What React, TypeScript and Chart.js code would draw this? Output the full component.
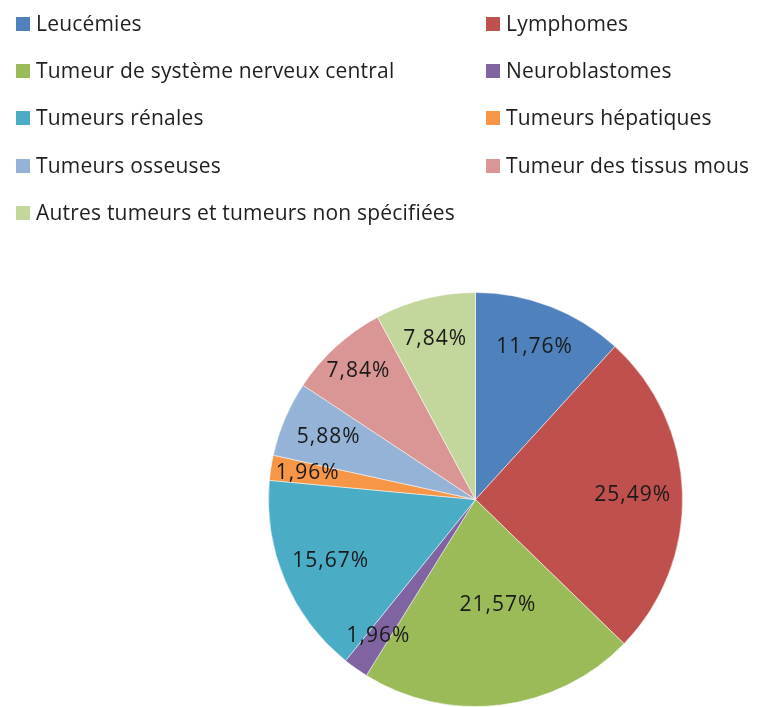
import React, { useEffect, useRef } from "react";
import { Chart, registerables } from "chart.js";

Chart.register(...registerables);

const categories = [
  "Leucémies",
  "Lymphomes",
  "Tumeur de système nerveux central",
  "Neuroblastomes",
  "Tumeurs rénales",
  "Tumeurs hépatiques",
  "Tumeurs osseuses",
  "Tumeur des tissus mous",
  "Autres tumeurs et tumeurs non spécifiées",
];

const percentages = [11.76, 25.49, 21.57, 1.96, 15.67, 1.96, 5.88, 7.84, 7.84];

const sliceColors = [
  "#4F81BD",
  "#C0504D",
  "#9BBB59",
  "#8064A2",
  "#4BACC6",
  "#F79646",
  "#95B3D7",
  "#D99694",
  "#C3D69B",
];

// value label placement: fraction of the outer radius, and turn (degrees) from the slice middle
const labelRadius = [0.79, 0.76, 0.52, 0.81, 0.76, 0.82, 0.77, 0.84, 0.8];
const labelTurn = [0, 0, -5, 0, 0, 0, 0, 0, 0];

const FONT = "Open Sans, DejaVu Sans, sans-serif";

const formatPct = (v: number) => v.toFixed(2).replace(".", ",") + "%";

const legendPlugin = {
  id: "twoColumnLegend",
  afterDraw(chart: any) {
    const ctx = chart.ctx as any;
    const colX = [16, 486];
    const rowY = [24, 71, 118, 166, 213];
    ctx.save();
    ctx.font = `21px ${FONT}`;
    ctx.letterSpacing = "0.2px";
    ctx.textBaseline = "middle";
    ctx.textAlign = "left";
    chart.data.labels.forEach((label: string, i: number) => {
      const x = colX[i % 2];
      const y = rowY[Math.floor(i / 2)];
      ctx.fillStyle = sliceColors[i];
      ctx.fillRect(x, y - 7, 14, 14);
      ctx.fillStyle = "#1e1e1e";
      ctx.fillText(label, x + 20, y + 1);
    });
    ctx.restore();
  },
};

const valueLabelPlugin = {
  id: "valueLabels",
  afterDatasetsDraw(chart: any) {
    const ctx = chart.ctx as any;
    const meta = chart.getDatasetMeta(0);
    ctx.save();
    ctx.font = `21px ${FONT}`;
    ctx.letterSpacing = "1px";
    ctx.textAlign = "center";
    ctx.textBaseline = "middle";
    ctx.fillStyle = "#1a1a1a";
    meta.data.forEach((arc: any, i: number) => {
      const { x, y, startAngle, endAngle, outerRadius } = arc.getProps(
        ["x", "y", "startAngle", "endAngle", "outerRadius"],
        true
      );
      const mid = (startAngle + endAngle) / 2 + (labelTurn[i] * Math.PI) / 180;
      const r = outerRadius * labelRadius[i];
      ctx.fillText(
        formatPct(chart.data.datasets[0].data[i]),
        x + Math.cos(mid) * r,
        y + Math.sin(mid) * r
      );
    });
    ctx.restore();
  },
};

export default function App() {
  const canvasRef = useRef<HTMLCanvasElement>(null);

  useEffect(() => {
    document.body.style.margin = "0";
    document.body.style.background = "#ffffff";
    const chart = new Chart(canvasRef.current!, {
      type: "pie",
      data: {
        labels: categories,
        datasets: [
          {
            data: percentages,
            backgroundColor: sliceColors,
            borderColor: "rgba(255,255,255,0.5)",
            borderWidth: 1,
          },
        ],
      },
      options: {
        responsive: false,
        animation: false,
        layout: { padding: { left: 268, right: 74, top: 292, bottom: 0 } },
        plugins: {
          legend: { display: false },
          tooltip: { enabled: false },
          title: { display: false },
        },
      },
      plugins: [legendPlugin, valueLabelPlugin],
    });
    return () => chart.destroy();
  }, []);

  return (
    <div style={{ width: 757, height: 707, background: "#fff" }}>
      <canvas ref={canvasRef} width={757} height={707} style={{ display: "block" }} />
    </div>
  );
}
